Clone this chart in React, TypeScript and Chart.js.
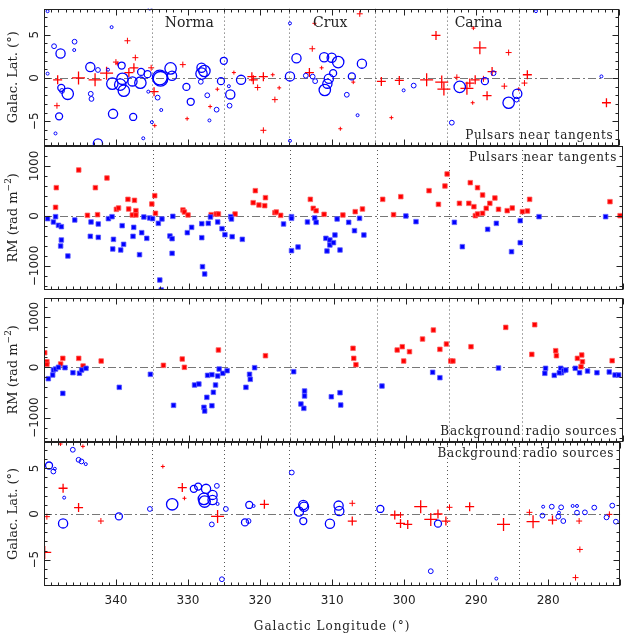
import { useEffect, useRef } from "react";
import { Chart, registerables } from "chart.js";

Chart.register(...registerables);

// ---------------- DATA ----------------
// Galactic longitude range and reference lines
const LON_MIN = 270;
const LON_MAX = 350;
const TANGENTS = [335, 325, 316, 304, 294, 284];
const ARM_NAMES = ["Norma", "Crux", "Carina"];
const ARM_LON = [329.8, 310.2, 289.6];
const X_TICK_LABELS = [340, 330, 320, 310, 300, 290, 280];
const LAT_TICK_LABELS = [5, 0, -5];
const RM_TICK_LABELS = [1000, 0, -1000];
const PSR_LABEL = "Pulsars near tangents";
const SRC_LABEL = "Background radio sources";

// Panel 1: pulsars, [lon, lat, size class] (circles = negative RM, crosses = positive RM)
const P1_CIRCLES: number[][] = [
  [349.5, 7.7, 1], [349.5, 0.5, 1], [348.6, 3.66, 2], [347.7, 2.82, 4], [348.4, -6.4, 1],
  [347.9, -4.43, 3], [347.6, -1.14, 3], [347.5, -1.5, 2], [346.7, -1.83, 5], [345.75, 4.18, 2],
  [345.8, 3.22, 1], [343.56, 1.25, 4], [343.5, -1.83, 2], [343.4, -2.42, 2], [342.5, 0.92, 2],
  [342.5, -7.55, 4], [340.6, 5.86, 1], [341.1, 0.95, 1], [340.4, -4.14, 4], [340.5, -0.66, 5],
  [339.4, -0.77, 5], [339.2, 1.43, 3], [339.1, -0.1, 5], [338.9, -1.47, 5], [337.7, -0.4, 4],
  [337.6, -4.5, 3], [336.6, -0.55, 5], [336.5, 0.7, 3], [336.2, -6.96, 1], [335.6, 0.44, 3],
  [335.3, 8.0, 1], [335.5, -1.58, 1], [335.0, -5.1, 1], [333.9, 0.05, 6], [333.8, -0.1, 6],
  [334.2, -2.27, 2], [333.7, -3.7, 1], [332.4, 1.1, 5], [332.2, 0.26, 4], [330.2, -1.03, 3],
  [329.6, -2.75, 3], [328.1, 1.17, 4], [328.1, 0.5, 5], [327.7, 0.8, 5], [328.2, -0.44, 2],
  [327.3, -2.0, 2], [327.0, -4.9, 1], [326.0, -3.66, 2], [325.4, -0.37, 3], [325.0, 1.98, 3],
  [324.1, -1.9, 4], [324.3, -0.95, 1], [324.2, -3.2, 2], [322.6, -0.22, 4], [315.8, 0.18, 4],
  [314.9, 2.27, 4], [315.8, 6.3, 1], [315.8, -7.25, 1], [313.6, 0.26, 2], [312.65, 0.15, 2],
  [312.3, -0.37, 2], [311.05, 2.38, 4], [310.0, 2.34, 4], [309.1, 1.83, 5], [309.8, 0.55, 3],
  [310.4, -0.1, 4], [310.6, -0.66, 4], [310.96, -1.39, 5], [307.2, 0.18, 3], [305.8, 1.65, 4],
  [307.9, -1.94, 2], [306.4, -4.3, 1], [300.0, -1.43, 1], [298.6, -0.88, 2], [293.3, -5.16, 2],
  [292.2, -1.03, 5], [288.7, -0.37, 3], [287.5, 0.55, 2], [285.4, -2.86, 5], [284.2, -1.83, 4],
  [284.3, -2.5, 2], [281.6, 7.7, 1], [272.5, 0.18, 1],
];
const P1_CROSSES: number[][] = [
  [348.1, -0.22, 3], [348.2, -3.2, 2], [345.2, 0.0, 4], [342.9, -0.22, 4], [341.3, 0.55, 4],
  [340.0, 1.83, 2], [339.8, 1.65, 1], [338.4, 4.29, 2], [338.2, 0.62, 3], [337.3, 2.34, 2],
  [337.5, 1.17, 3], [335.1, 1.17, 2], [334.7, -1.58, 3], [334.6, -5.5, 1], [330.7, 1.54, 2],
  [330.1, -4.7, 1], [326.9, -3.3, 1], [325.9, -1.3, 1], [323.6, 0.62, 1], [321.1, 0.15, 3],
  [320.9, -0.22, 3], [320.3, -1.1, 2], [319.5, 0.15, 3], [319.5, -6.04, 2], [317.9, -2.5, 2],
  [318.2, 0.37, 1], [317.3, -1.14, 1], [313.1, 0.62, 3], [312.7, 3.37, 2], [312.4, 6.3, 1],
  [306.1, 7.4, 2], [311.4, 1.17, 1], [307.0, -0.48, 1], [308.8, -5.86, 1], [301.7, -4.58, 1],
  [303.1, -0.4, 3], [300.6, -0.29, 3], [296.8, -0.22, 4], [295.5, 4.9, 3], [294.7, -0.48, 4],
  [294.4, -1.28, 4], [292.6, 0.07, 2], [291.2, -1.2, 4], [290.8, -0.59, 3], [290.3, 5.75, 1],
  [290.4, -2.86, 1], [290.05, -0.22, 3], [289.4, 3.48, 4], [288.9, -0.1, 2], [288.4, -2.05, 3],
  [287.7, 0.73, 3], [286.0, -0.95, 2], [285.4, 2.93, 2], [284.0, -1.3, 1], [283.2, -0.59, 2],
  [282.8, 0.37, 3], [271.8, -2.86, 3],
];

// Panel 2: pulsar RMs, [lon, RM]
const P2_POS: number[][] = [
  [348.3, 567], [348.4, 173], [345.2, 920], [344.0, 13], [342.9, 567], [342.6, 27], [341.3, 760],
  [340.0, 133], [339.7, 160], [338.4, 333], [338.3, 140], [337.5, 313], [337.3, 107], [337.8, 20],
  [337.3, 20], [335.1, 240], [334.7, 407], [334.6, 53], [330.8, 120], [330.6, 80], [330.1, 20],
  [326.9, 27], [326.2, 40], [325.9, 40], [323.6, 40], [321.1, 267], [320.8, 507], [320.3, 220],
  [319.5, 207], [319.4, 367], [318.1, 67], [317.9, 80], [317.3, 13], [313.2, 333], [312.8, 153],
  [312.4, 107], [311.3, 33], [308.7, 20], [307.0, 87], [306.0, 140], [303.2, 333], [301.7, 27],
  [300.7, 387], [296.8, 507], [295.5, 233], [294.6, 600], [294.3, 840], [292.6, 253], [291.1, 667],
  [291.3, 253], [290.6, 187], [290.1, 567], [290.4, 7], [290.1, 40], [289.4, 420], [289.4, 53],
  [288.9, 153], [288.4, 253], [287.7, 360], [287.2, 133], [286.0, 107], [285.3, 160], [283.9, 87],
  [283.2, 100], [282.9, 333], [271.8, 287], [270.4, 7],
];
const P2_NEG: number[][] = [
  [349.5, -53], [348.7, -120], [348.4, -13], [348.0, -187], [347.6, -213], [347.6, -480],
  [347.7, -600], [346.7, -800], [345.75, -80], [343.5, -120], [343.6, -407], [342.5, -160],
  [342.5, -427], [341.1, -53], [340.6, -13], [340.4, -467], [340.5, -660], [339.4, -680],
  [339.2, -193], [339.0, -567], [337.6, -227], [337.7, -407], [336.5, -333], [336.8, -773],
  [336.2, -20], [335.8, -447], [335.4, -40], [335.0, -53], [334.2, -147], [333.7, -60],
  [334.0, -1280], [333.8, -1480], [332.6, -400], [332.3, -453], [332.2, -7], [332.3, -747],
  [330.2, -333], [329.6, -227], [328.2, -153], [328.2, -433], [328.1, -1013], [327.8, -1160],
  [327.3, -147], [327.0, -20], [326.0, -120], [325.4, -253], [325.0, -373], [324.2, -13],
  [324.1, -60], [324.0, -413], [322.6, -467], [316.9, -160], [315.8, -13], [315.8, -47],
  [315.8, -693], [314.9, -620], [313.6, -120], [312.6, -40], [312.4, -127], [311.05, -447],
  [310.9, -700], [310.5, -480], [310.5, -580], [310.0, -533], [309.8, -380], [309.1, -680],
  [309.5, -60], [307.9, -127], [307.1, -293], [306.4, -47], [305.8, -380], [300.0, 0],
  [298.6, -113], [293.3, -127], [292.2, -613], [288.7, -267], [287.5, -147], [285.4, -713],
  [284.2, -93], [284.2, -533], [281.6, -13], [272.4, -13],
];

// Panel 3: background source RMs, [lon, RM]
const P3_POS: number[][] = [
  [349.9, 290], [349.6, 112], [349.6, 59], [347.7, 66], [347.4, 178], [345.2, 178], [344.6, 26],
  [342.1, 125], [333.5, 39], [330.9, 165], [330.6, 0], [325.9, 344], [319.4, 231], [307.3, 378],
  [307.2, 178], [306.9, 52], [301.2, 344], [300.5, 410], [300.3, 125], [299.5, 311], [297.7, 562],
  [296.2, 741], [295.3, 357], [294.4, 463], [293.8, 125], [293.5, 125], [291.0, 410], [286.2, 794],
  [282.6, 257], [282.2, 847], [279.3, 331], [279.2, 231], [276.3, 178], [275.7, 245], [275.6, 112],
  [275.8, 13], [271.5, 132],
];
const P3_NEG: number[][] = [
  [349.4, -226], [348.8, -153], [348.7, -54], [348.4, -34], [348.0, 0], [347.1, -7], [347.4, -518],
  [346.0, -107], [345.1, -119], [344.8, -54], [344.2, -20], [339.6, -398], [335.3, -140],
  [332.1, -756], [329.2, -352], [328.6, -332], [327.9, -796], [327.8, -869], [327.5, -597],
  [327.4, -160], [326.8, -146], [326.8, -763], [326.6, -497], [326.3, -352], [326.0, -173],
  [325.8, -34], [325.3, -120], [324.7, -67], [322.1, -398], [321.6, -140], [321.5, -239],
  [320.9, -7], [315.5, -87], [314.5, -730], [314.1, -816], [314.0, -471], [314.0, -570],
  [310.3, -585], [309.1, -505], [309.0, -750], [303.3, -372], [296.3, -100], [295.3, -206],
  [287.2, -14], [280.7, -20], [280.8, -120], [279.5, -160], [278.6, -20], [278.5, -107],
  [278.2, -67], [277.9, -54], [278.8, -110], [276.6, -20], [276.0, -107], [274.9, -74],
  [273.6, -107], [271.9, -93], [271.1, -153], [270.6, -153],
];

// Panel 4: background sources, [lon, lat, size class]
const P4_CIRCLES: number[][] = [
  [349.3, 5.31, 3], [348.7, 4.65, 2], [348.5, 4.95, 1], [346.0, 7.03, 2], [345.2, 5.93, 2],
  [344.8, 5.75, 2], [344.2, 5.46, 1], [347.2, 1.79, 1], [347.35, -1.03, 4], [339.6, -0.26, 3],
  [335.3, 0.55, 2], [332.2, 1.06, 5], [329.2, 2.75, 3], [328.6, 3.0, 3], [327.5, 2.75, 4],
  [327.8, 1.65, 5], [327.7, 1.36, 5], [326.6, 2.09, 4], [326.6, 1.54, 4], [326.0, 3.08, 2],
  [325.9, 1.1, 1], [326.7, -1.14, 2], [325.3, -7.14, 2], [324.75, 0.55, 2], [322.1, -0.92, 3],
  [321.5, 0.99, 3], [321.6, -0.77, 2], [320.9, 0.88, 1], [315.6, 4.54, 2], [314.6, 0.26, 4],
  [314.0, 0.99, 4], [313.9, 0.8, 4], [314.0, -0.77, 3], [309.1, 0.92, 4], [309.0, 0.33, 4],
  [310.3, -1.06, 4], [303.3, 0.55, 3], [296.3, -6.26, 2], [295.3, -1.06, 3], [287.2, -7.07, 1],
  [280.7, 0.8, 1], [280.8, -0.18, 2], [279.5, 0.8, 2], [278.2, 0.73, 2], [278.6, -0.29, 2],
  [277.9, -0.77, 2], [278.5, 0.15, 1], [276.6, 0.88, 1], [276.0, 0.88, 1], [276.0, 0.15, 2],
  [274.9, 0.18, 2], [273.6, 0.7, 2], [271.9, -0.37, 2], [271.1, 0.92, 2], [270.6, -0.84, 2],
];
const P4_CROSSES: number[][] = [
  [347.7, 7.66, 1], [344.6, 7.4, 1], [349.6, -0.29, 2], [349.9, -4.2, 4], [347.35, 2.82, 3],
  [345.2, 0.7, 3], [342.1, -0.77, 2], [333.5, 5.2, 1], [330.8, 2.89, 3], [330.5, 1.72, 1],
  [325.9, -0.26, 4], [319.4, 1.06, 3], [307.2, 1.17, 2], [307.2, -0.77, 3], [301.3, -0.11, 3],
  [300.5, -0.11, 2], [300.5, -1.03, 3], [299.5, -1.14, 3], [297.7, 0.8, 4], [296.3, -0.59, 4],
  [295.3, 0.0, 3], [294.2, -0.77, 3], [293.7, 0.73, 2], [290.9, 0.8, 3], [286.2, -1.14, 4],
  [282.6, 0.18, 2], [282.1, -0.84, 4], [279.4, -0.66, 3], [275.7, -0.77, 2], [275.6, -3.88, 2],
  [276.2, -6.96, 2], [271.5, -0.04, 2],
];

// ---------------- STYLE ----------------
const W = 628;
const H = 633;
const PLOT_LEFT = 44;
const PLOT_RIGHT = 627;
const CIRCLE_R = [0, 1.5, 2.4, 3.5, 4.6, 5.7, 7.3];
const CROSS_R = [0, 2, 3, 4.5, 6.5];
const BLUE = "#0000ff";
const RED = "#ff0000";
const INK = "#222222";
const SERIF = '"DejaVu Serif", "Liberation Serif", serif';
const SANS = '"DejaVu Sans", "Liberation Sans", sans-serif';

type PanelCfg = {
  top: number;
  bottom: number;
  yMin: number;
  yMax: number;
  minor: number;
  majorEvery: number;
  tickLabels: number[];
  kind: "lat" | "rm";
  corner: string;
  cornerAt: "top" | "bottom";
  arms: boolean;
  topTicks: boolean;
  xLabels: boolean;
  datasets: any[];
};

function circleSet(rows: number[][]) {
  return {
    data: rows.map((r) => ({ x: r[0], y: r[1] })),
    pointStyle: "circle",
    pointRadius: rows.map((r) => CIRCLE_R[r[2]]),
    backgroundColor: "rgba(0,0,0,0)",
    borderColor: BLUE,
    borderWidth: rows.map((r) => (r[2] <= 2 ? 1 : 1.3)),
    showLine: false,
  };
}
function crossSet(rows: number[][]) {
  return {
    data: rows.map((r) => ({ x: r[0], y: r[1] })),
    pointStyle: "cross",
    pointRadius: rows.map((r) => CROSS_R[r[2]]),
    borderColor: RED,
    borderWidth: rows.map((r) => (r[2] >= 3 ? 1.3 : 1)),
    showLine: false,
  };
}
function squareSet(rows: number[][], fill: string, edge: string) {
  return {
    data: rows.map((r) => ({ x: r[0], y: r[1] })),
    pointStyle: "rect",
    pointRadius: 3.2,
    backgroundColor: fill,
    borderColor: edge,
    borderWidth: 1,
    showLine: false,
  };
}

const PANELS: PanelCfg[] = [
  {
    top: 1, bottom: 146, yMin: -7.85, yMax: 8, minor: 1, majorEvery: 5,
    tickLabels: LAT_TICK_LABELS, kind: "lat", corner: PSR_LABEL, cornerAt: "bottom",
    arms: true, topTicks: true, xLabels: false,
    datasets: [circleSet(P1_CIRCLES), crossSet(P1_CROSSES)],
  },
  {
    top: 146, bottom: 289.5, yMin: -1470, yMax: 1400, minor: 200, majorEvery: 5,
    tickLabels: RM_TICK_LABELS, kind: "rm", corner: PSR_LABEL, cornerAt: "top",
    arms: false, topTicks: false, xLabels: false,
    datasets: [squareSet(P2_NEG, BLUE, "rgba(90,90,255,0.8)"), squareSet(P2_POS, RED, "rgba(255,90,90,0.8)")],
  },
  {
    top: 297.5, bottom: 442, yMin: -1485, yMax: 1388, minor: 200, majorEvery: 5,
    tickLabels: RM_TICK_LABELS, kind: "rm", corner: SRC_LABEL, cornerAt: "bottom",
    arms: false, topTicks: true, xLabels: false,
    datasets: [squareSet(P3_NEG, BLUE, "rgba(90,90,255,0.8)"), squareSet(P3_POS, RED, "rgba(255,90,90,0.8)")],
  },
  {
    top: 442, bottom: 586, yMin: -7.88, yMax: 7.88, minor: 1, majorEvery: 5,
    tickLabels: LAT_TICK_LABELS, kind: "lat", corner: SRC_LABEL, cornerAt: "top",
    arms: false, topTicks: true, xLabels: true,
    datasets: [circleSet(P4_CIRCLES), crossSet(P4_CROSSES)],
  },
];

function fmt(v: number) {
  return v < 0 ? "\u2212" + String(-v) : String(v);
}

const framePlugin = {
  id: "frame",
  beforeDatasetsDraw(chart: any, _a: any, opts: any) {
    const cfg: PanelCfg = opts.cfg;
    if (!cfg) return;
    const { ctx, chartArea: a } = chart;
    const x = chart.scales.x;
    const y = chart.scales.y;
    ctx.save();
    ctx.beginPath();
    ctx.rect(a.left, a.top, a.right - a.left, a.bottom - a.top);
    ctx.clip();
    ctx.lineWidth = 1;
    ctx.strokeStyle = "#555";
    ctx.setLineDash([1, 3]);
    for (const t of TANGENTS) {
      const px = Math.round(x.getPixelForValue(t)) + 0.5;
      ctx.beginPath();
      ctx.moveTo(px, a.top);
      ctx.lineTo(px, a.bottom);
      ctx.stroke();
    }
    ctx.strokeStyle = "#777";
    ctx.setLineDash([8, 3, 2, 3]);
    const py = Math.round(y.getPixelForValue(0)) + 0.5;
    ctx.beginPath();
    ctx.moveTo(a.left, py);
    ctx.lineTo(a.right, py);
    ctx.stroke();
    ctx.restore();
  },
  afterDatasetsDraw(chart: any, _a: any, opts: any) {
    const cfg: PanelCfg = opts.cfg;
    if (!cfg) return;
    const { ctx, chartArea: a } = chart;
    const x = chart.scales.x;
    const y = chart.scales.y;
    ctx.save();
    ctx.setLineDash([]);
    ctx.strokeStyle = INK;
    ctx.lineWidth = 1;
    const L = Math.round(a.left) + 0.5;
    const R = Math.round(a.right) - 0.5;
    const T = Math.round(a.top) + 0.5;
    const B = Math.round(a.bottom) - 0.5;
    ctx.strokeRect(L, T, R - L, B - T);
    ctx.beginPath();
    for (let v = LON_MIN; v <= LON_MAX; v++) {
      const px = Math.round(x.getPixelForValue(v)) + 0.5;
      const len = v % 10 === 0 ? 6 : 3;
      ctx.moveTo(px, B);
      ctx.lineTo(px, B - len);
      if (cfg.topTicks) {
        ctx.moveTo(px, T);
        ctx.lineTo(px, T + len);
      }
    }
    const n0 = Math.ceil(cfg.yMin / cfg.minor);
    const n1 = Math.floor(cfg.yMax / cfg.minor);
    for (let n = n0; n <= n1; n++) {
      const py = Math.round(y.getPixelForValue(n * cfg.minor)) + 0.5;
      const len = n % cfg.majorEvery === 0 ? 6 : 3;
      ctx.moveTo(L, py);
      ctx.lineTo(L + len, py);
      ctx.moveTo(R, py);
      ctx.lineTo(R - len, py);
    }
    ctx.stroke();

    ctx.fillStyle = INK;
    // y tick labels (rotated)
    ctx.font = `12px ${SANS}`;
    ctx.textAlign = "center";
    ctx.textBaseline = "alphabetic";
    for (const v of cfg.tickLabels) {
      const py = y.getPixelForValue(v);
      ctx.save();
      ctx.translate(37.5, py);
      ctx.rotate(-Math.PI / 2);
      ctx.fillText(fmt(v), 0, 0);
      ctx.restore();
    }
    // y title (rotated)
    const cy = (a.top + a.bottom) / 2;
    ctx.save();
    ctx.translate(16.5, cy);
    ctx.rotate(-Math.PI / 2);
    ctx.font = `13px ${SERIF}`;
    if (cfg.kind === "lat") {
      ctx.textAlign = "center";
      ctx.fillText("Galac. Lat. (\u00b0)", 0, 0);
    } else {
      const main = "RM (rad m";
      const sup = "\u22122";
      const close = ")";
      const w1 = ctx.measureText(main).width;
      const w3 = ctx.measureText(close).width;
      ctx.font = `9px ${SERIF}`;
      const w2 = ctx.measureText(sup).width;
      const start = -(w1 + w2 + w3) / 2;
      ctx.textAlign = "left";
      ctx.font = `13px ${SERIF}`;
      ctx.fillText(main, start, 0);
      ctx.font = `9px ${SERIF}`;
      ctx.fillText(sup, start + w1, -5.5);
      ctx.font = `13px ${SERIF}`;
      ctx.fillText(close, start + w1 + w2, 0);
    }
    ctx.restore();

    // arm names
    if (cfg.arms) {
      ctx.font = `14px ${SERIF}`;
      ctx.textAlign = "center";
      ARM_NAMES.forEach((name, i) => {
        ctx.fillText(name, x.getPixelForValue(ARM_LON[i]), a.top + 18.5);
      });
    }
    // corner label
    ctx.font = `12px ${SERIF}`;
    (ctx as any).letterSpacing = "0.7px";
    ctx.textAlign = "right";
    const cyLab = cfg.cornerAt === "bottom" ? a.bottom - 7 : a.top + 14.5;
    ctx.fillText(cfg.corner, a.right - 6, cyLab);
    (ctx as any).letterSpacing = "0px";

    // x tick labels + title
    if (cfg.xLabels) {
      ctx.font = `12px ${SANS}`;
      ctx.textAlign = "center";
      for (const v of X_TICK_LABELS) {
        ctx.fillText(String(v), x.getPixelForValue(v), a.bottom + 17.5);
      }
      ctx.font = `12px ${SERIF}`;
      (ctx as any).letterSpacing = "1px";
      ctx.fillText("Galactic Longitude (\u00b0)", (a.left + a.right) / 2, a.bottom + 44);
      (ctx as any).letterSpacing = "0px";
    }
    ctx.restore();
  },
};

function Panel({ cfg }: { cfg: PanelCfg }) {
  const ref = useRef<HTMLCanvasElement>(null);
  useEffect(() => {
    if (!ref.current) return;
    const chart = new Chart(ref.current, {
      type: "scatter",
      data: { datasets: cfg.datasets },
      options: {
        animation: false,
        responsive: false,
        maintainAspectRatio: false,
        events: [],
        layout: {
          padding: {
            left: PLOT_LEFT,
            right: W - PLOT_RIGHT,
            top: cfg.top,
            bottom: H - cfg.bottom,
          },
        },
        scales: {
          x: { type: "linear", min: LON_MIN, max: LON_MAX, reverse: true, display: false },
          y: { type: "linear", min: cfg.yMin, max: cfg.yMax, display: false },
        },
        plugins: {
          legend: { display: false },
          tooltip: { enabled: false },
          frame: { cfg },
        } as any,
      },
      plugins: [framePlugin],
    } as any);
    return () => chart.destroy();
  }, [cfg]);
  return (
    <canvas
      ref={ref}
      width={W}
      height={H}
      style={{ position: "absolute", left: 0, top: 0, width: W, height: H }}
    />
  );
}

export default function App() {
  return (
    <div
      style={{
        position: "absolute",
        left: 0,
        top: 0,
        width: W,
        height: H,
        background: "#fff",
        overflow: "hidden",
      }}
    >
      {PANELS.map((p, i) => (
        <Panel key={i} cfg={p} />
      ))}
    </div>
  );
}
